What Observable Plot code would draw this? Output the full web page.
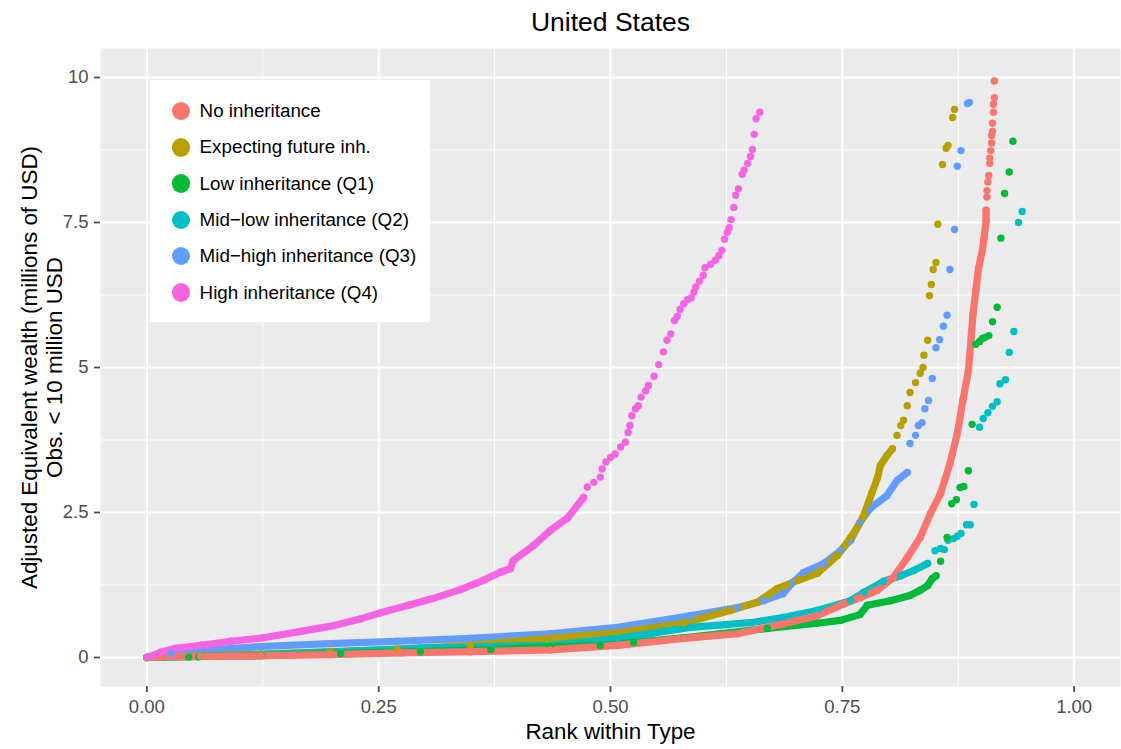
<!DOCTYPE html>
<html>
<head>
<meta charset="utf-8">
<script src="https://cdn.jsdelivr.net/npm/d3@7"></script>
<script src="https://cdn.jsdelivr.net/npm/@observablehq/plot@0.6"></script>
<style>
  body { margin: 0; background: #fff; font-family: "Liberation Sans", Arial, Helvetica, sans-serif; }
  #wrap { position: relative; width: 1121px; height: 749px; }
  #legend { position: absolute; left: 150px; top: 80px; width: 280px; height: 242px; background: #fff; }
  .item { position: absolute; left: 0; height: 30px; display: flex; align-items: center; font-size: 18.8px; color: #000; white-space: nowrap; }
  .sw { width: 18.6px; height: 18.6px; border-radius: 50%; margin-left: 21.5px; margin-right: 9.5px; }
</style>
</head>
<body>
<div id="wrap"></div>
<script>
// ---- categories / series names ----
const seriesNames = [
  "No inheritance",
  "Expecting future inh.",
  "Low inheritance (Q1)",
  "Mid\u2212low inheritance (Q2)",
  "Mid\u2212high inheritance (Q3)",
  "High inheritance (Q4)"
];
const seriesColors = ["#F8766D", "#B79F00", "#00BA38", "#00BFC4", "#619CFF", "#F564E3"];

// ---- data: [rank within type, wealth in millions USD] ----
// dense part of each curve ("core") and sparse upper tail
const noInhCore = [[0,0],[0.015,0.01],[0.058,0.02],[0.123,0.03],[0.198,0.05],[0.274,0.08],[0.349,0.10],[0.435,0.13],[0.508,0.21],[0.579,0.33],[0.637,0.41],[0.686,0.58],[0.723,0.72],[0.751,0.92],[0.769,1.03],[0.788,1.16],[0.805,1.38],[0.820,1.72],[0.834,2.07],[0.845,2.48],[0.856,2.83],[0.866,3.34],[0.874,3.86],[0.880,4.43],[0.886,4.95],[0.889,5.52],[0.891,5.93],[0.894,6.33],[0.897,6.72],[0.901,7.02],[0.903,7.24],[0.905,7.53],[0.905,7.71]];
const noInhTail = [[0.906,7.94],[0.906,8.05],[0.907,8.20],[0.908,8.31],[0.909,8.52],[0.909,8.61],[0.910,8.74],[0.911,8.87],[0.911,9.00],[0.912,9.07],[0.912,9.21],[0.913,9.40],[0.913,9.54],[0.914,9.65],[0.914,9.94]];

const expCore = [[0,0],[0.058,0.03],[0.123,0.06],[0.198,0.10],[0.270,0.14],[0.349,0.21],[0.435,0.33],[0.508,0.43],[0.579,0.59],[0.629,0.81],[0.658,0.95],[0.680,1.19],[0.702,1.33],[0.723,1.45],[0.745,1.76],[0.759,2.07],[0.766,2.24],[0.772,2.41],[0.778,2.66],[0.782,2.84],[0.788,3.10],[0.791,3.31],[0.798,3.48],[0.804,3.60]];
const expTail = [[0.809,3.83],[0.813,4.00],[0.816,4.09],[0.820,4.34],[0.823,4.57],[0.829,4.74],[0.834,4.90],[0.837,5.00],[0.838,5.21],[0.842,5.47],[0.844,6.24],[0.846,6.43],[0.848,6.69],[0.851,6.81],[0.853,7.47],[0.858,8.50],[0.862,8.78],[0.864,8.83],[0.869,9.31],[0.871,9.45]];

const q1Core = [[0,0],[0.058,0.02],[0.123,0.03],[0.209,0.07],[0.295,0.10],[0.371,0.14],[0.435,0.19],[0.489,0.21],[0.525,0.26],[0.579,0.34],[0.669,0.50],[0.723,0.59],[0.748,0.64],[0.769,0.74],[0.777,0.90],[0.802,0.98],[0.823,1.07],[0.834,1.16],[0.842,1.24],[0.847,1.36],[0.851,1.41]];
const q1Tail = [[0.015,0.01],[0.045,0.01],[0.056,0.01],[0.856,1.66],[0.863,2.07],[0.868,2.65],[0.873,2.72],[0.877,2.93],[0.881,2.95],[0.886,3.22],[0.890,4.02],[0.894,5.40],[0.898,5.45],[0.901,5.50],[0.904,5.52],[0.908,5.55],[0.912,5.79],[0.917,6.04],[0.921,7.23],[0.925,8.00],[0.930,8.37],[0.934,8.90]];

const q2Core = [[0,0],[0.058,0.02],[0.123,0.05],[0.209,0.10],[0.295,0.16],[0.371,0.19],[0.435,0.21],[0.508,0.33],[0.586,0.52],[0.651,0.60],[0.686,0.69],[0.723,0.81],[0.759,0.98],[0.773,1.12],[0.794,1.31],[0.813,1.41],[0.827,1.50],[0.842,1.62]];
const q2Tail = [[0.850,1.84],[0.856,1.88],[0.860,1.86],[0.864,2.02],[0.870,2.05],[0.874,2.09],[0.878,2.14],[0.884,2.29],[0.888,2.29],[0.892,2.64],[0.898,3.97],[0.902,4.12],[0.907,4.22],[0.912,4.33],[0.917,4.41],[0.920,4.72],[0.926,4.79],[0.930,5.26],[0.935,5.62],[0.940,7.50],[0.944,7.69]];

const q3Core = [[0,0],[0.026,0.07],[0.058,0.12],[0.123,0.19],[0.198,0.24],[0.270,0.28],[0.349,0.33],[0.435,0.41],[0.508,0.52],[0.586,0.72],[0.637,0.86],[0.665,0.98],[0.686,1.10],[0.697,1.30],[0.708,1.46],[0.730,1.62],[0.748,1.84],[0.759,2.02],[0.769,2.33],[0.780,2.57],[0.798,2.79],[0.809,3.05],[0.820,3.19]];
const q3Tail = [[0.823,3.69],[0.829,3.83],[0.832,4.00],[0.836,4.05],[0.839,4.29],[0.843,4.43],[0.847,4.81],[0.851,5.34],[0.855,5.48],[0.859,5.71],[0.863,5.90],[0.866,6.69],[0.871,7.38],[0.874,8.47],[0.878,8.74],[0.885,9.55],[0.887,9.57]];

const q4Core = [[0,0],[0.015,0.09],[0.031,0.16],[0.058,0.21],[0.091,0.28],[0.126,0.34],[0.166,0.45],[0.202,0.55],[0.231,0.67],[0.252,0.77],[0.284,0.91],[0.309,1.02],[0.338,1.17],[0.363,1.33],[0.381,1.47],[0.392,1.53],[0.395,1.67],[0.417,1.93],[0.435,2.19],[0.454,2.41],[0.471,2.76]];
const q4Tail = [[0.475,2.94],[0.482,3.02],[0.489,3.11],[0.491,3.25],[0.495,3.37],[0.500,3.45],[0.505,3.51],[0.511,3.63],[0.516,3.71],[0.519,3.88],[0.521,4.00],[0.523,4.17],[0.527,4.29],[0.530,4.34],[0.533,4.49],[0.538,4.60],[0.541,4.69],[0.547,4.85],[0.552,5.05],[0.557,5.27],[0.561,5.47],[0.565,5.58],[0.569,5.81],[0.572,5.88],[0.575,6.00],[0.579,6.10],[0.583,6.17],[0.587,6.20],[0.590,6.30],[0.592,6.39],[0.596,6.49],[0.600,6.59],[0.602,6.72],[0.608,6.78],[0.613,6.85],[0.617,6.93],[0.620,7.02],[0.623,7.21],[0.626,7.33],[0.628,7.41],[0.630,7.55],[0.633,7.76],[0.635,7.97],[0.638,8.08],[0.642,8.33],[0.644,8.40],[0.648,8.52],[0.651,8.64],[0.653,8.76],[0.655,9.02],[0.657,9.29],[0.661,9.40]];

// ---- tick values / labels ----
const xTicks = [0, 0.25, 0.5, 0.75, 1];
const xMinor = [0.125, 0.375, 0.625, 0.875];
const yTicks = [0, 2.5, 5, 7.5, 10];
const yMinor = [1.25, 3.75, 6.25, 8.75];
const titleText = "United States";
const xTitle = "Rank within Type";
const yTitleLines = ["Adjusted Equivalent wealth (millions of USD)", "Obs. < 10 million USD"];

// ---- build tables (draw order: Q3, Expecting, Q2, Q1, No inh., Q4) ----
const bySeries = {
  "No inheritance": [noInhCore, noInhTail],
  "Expecting future inh.": [expCore, expTail],
  "Low inheritance (Q1)": [q1Core, q1Tail],
  "Mid\u2212low inheritance (Q2)": [q2Core, q2Tail],
  "Mid\u2212high inheritance (Q3)": [q3Core, q3Tail],
  "High inheritance (Q4)": [q4Core, q4Tail]
};
const drawOrder = [4, 1, 3, 2, 0, 5].map(i => seriesNames[i]);
const coreRows = [], allRows = [];
for (const name of drawOrder) {
  const [core, tail] = bySeries[name];
  for (const [r, w] of core) { coreRows.push({r, w, name}); allRows.push({r, w, name}); }
  for (const [r, w] of tail) allRows.push({r, w, name});
}

const font = "'Liberation Sans', Arial, Helvetica, sans-serif";
const chart = Plot.plot({
  width: 1121,
  height: 749,
  marginLeft: 100,
  marginRight: 1,
  marginTop: 48,
  marginBottom: 63,
  style: {fontFamily: font, fontSize: "18.5px", background: "#fff"},
  x: {domain: [-0.05, 1.05]},
  y: {domain: [-0.5, 10.5]},
  color: {domain: seriesNames, range: seriesColors},
  marks: [
    Plot.frame({fill: "#EBEBEB", stroke: null}),
    Plot.gridX(xMinor, {stroke: "#fff", strokeOpacity: 1, strokeWidth: 1}),
    Plot.gridY(yMinor, {stroke: "#fff", strokeOpacity: 1, strokeWidth: 1}),
    Plot.gridX(xTicks, {stroke: "#fff", strokeOpacity: 1, strokeWidth: 2.1}),
    Plot.gridY(yTicks, {stroke: "#fff", strokeOpacity: 1, strokeWidth: 2.1}),
    Plot.line(coreRows, {x: "r", y: "w", z: "name", stroke: "name", strokeWidth: 7.2, strokeLinecap: "round", strokeLinejoin: "round"}),
    Plot.dot(allRows, {x: "r", y: "w", fill: "name", r: 3.7}),
    Plot.axisX(xTicks, {tickSize: 6, tickPadding: 7, fontSize: 18.5, color: "#4D4D4D", strokeWidth: 1.8, tickFormat: d => d.toFixed(2), label: null}),
    Plot.axisY(yTicks, {tickSize: 6, tickPadding: 6, fontSize: 18.5, color: "#4D4D4D", strokeWidth: 1.8, tickFormat: d => String(d), label: null}),
    Plot.text([titleText], {frameAnchor: "top", lineAnchor: "middle", textAnchor: "middle", dy: -25.5, fontSize: 26.5, fill: "#000"}),
    Plot.text([xTitle], {frameAnchor: "bottom", lineAnchor: "middle", textAnchor: "middle", dy: 45, fontSize: 22.4, fill: "#000"}),
    Plot.text([yTitleLines.join("\n")], {frameAnchor: "left", lineAnchor: "middle", textAnchor: "middle", lineHeight: 1.1, dx: -59, rotate: -90, fontSize: 22.4, fill: "#000"})
  ]
});

const wrap = document.getElementById("wrap");
wrap.appendChild(chart);

// ---- legend (inside the panel, white box) ----
const legend = document.createElement("div");
legend.id = "legend";
seriesNames.forEach((name, i) => {
  const item = document.createElement("div");
  item.className = "item";
  item.style.top = (31 + i * 36.3 - 15) + "px";
  const sw = document.createElement("span");
  sw.className = "sw";
  sw.style.background = seriesColors[i];
  const label = document.createElement("span");
  label.textContent = name;
  item.appendChild(sw);
  item.appendChild(label);
  legend.appendChild(item);
});
wrap.appendChild(legend);
</script>
</body>
</html>
